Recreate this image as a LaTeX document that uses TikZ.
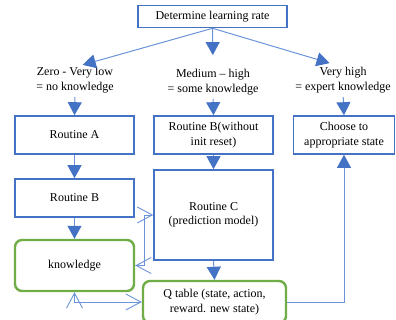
\documentclass[tikz,border=0pt]{standalone}
\usepackage{fontspec}
\setmainfont{Liberation Serif}
\usetikzlibrary{arrows.meta}
\definecolor{boxblue}{HTML}{4472C4}
\definecolor{lineblue}{HTML}{6A93D8}
\definecolor{kgreen}{HTML}{70AD47}

\begin{document}
\begin{tikzpicture}[x=1pt, y=-1pt,
		every node/.style={font=\fontsize{12}{14.5}\selectfont, align=center, inner sep=0pt},
		box/.style={draw=boxblue, line width=1.6pt, minimum width=119pt, minimum height=38pt},
		store/.style={draw=kgreen, line width=2.4pt, rounded corners=7pt, minimum width=119pt},
		flow/.style={lineblue, line width=1pt, -{Triangle[length=13pt, width=14pt, color=boxblue]}},
		link/.style={lineblue, line width=0.9pt, {Straight Barb[length=15pt, width=16pt]}-{Straight Barb[length=15pt, width=16pt]}}]
			\useasboundingbox (0,0) rectangle (396,320);
			\clip (0,0) rectangle (396,320);
			\node[box, minimum width=149pt, minimum height=22pt] (rate) at (212.5,16.5) {Determine learning rate};
			\node (low) at (75,80) {Zero - Very low\\= no knowledge};
			\node (mid) at (213,82) {Medium -- high\\= some knowledge};
			\node (high) at (343,80) {Very high\\= expert knowledge};
			\node[box] (ra) at (74.5,135) {Routine A};
			\node[box] (rbnoreset) at (213.5,135) {Routine B(without\\init reset)};
			\node[box, minimum width=101pt] (choose) at (344,135) {Choose to\\appropriate state};
			\node[box] (rb) at (74.5,198) {Routine B};
			\node[box, minimum height=90pt] (rc) at (213.5,215) {Routine C\\(prediction model)};
			\node[store, minimum height=51pt] (know) at (74.5,265.5) {knowledge};
			\node[store, minimum width=143pt, minimum height=42pt] (qtable) at (214.5,302) {Q table (state, action,\\reward. new state)};

			\draw[flow, shorten >=8pt] (rate.south) -- (low.north);
			\draw[flow, shorten >=14pt] (rate.south) -- (mid.north);
			\draw[flow, shorten >=14pt] (rate.south) -- (high.north);
			\draw[flow, shorten <=4pt] (low.south) -- (ra.north);
			\draw[flow, shorten <=4pt] (mid.south) -- (rbnoreset.north);
			\draw[flow, shorten <=4pt] (high.south) -- (choose.north);
			\draw[flow] (ra) -- (rb);
			\draw[flow] (rbnoreset) -- (rc);
			\draw[flow] (rb) -- (know);
			\draw[flow] (rc.south) -- (qtable.north);
			\draw[flow] (qtable.east) -| (choose.south);
			\draw[link] (know.east) -- ++(9,0) |- (rc.west);
			\draw[link] (know.south) |- (qtable.west);
		\end{tikzpicture}
\end{document}
